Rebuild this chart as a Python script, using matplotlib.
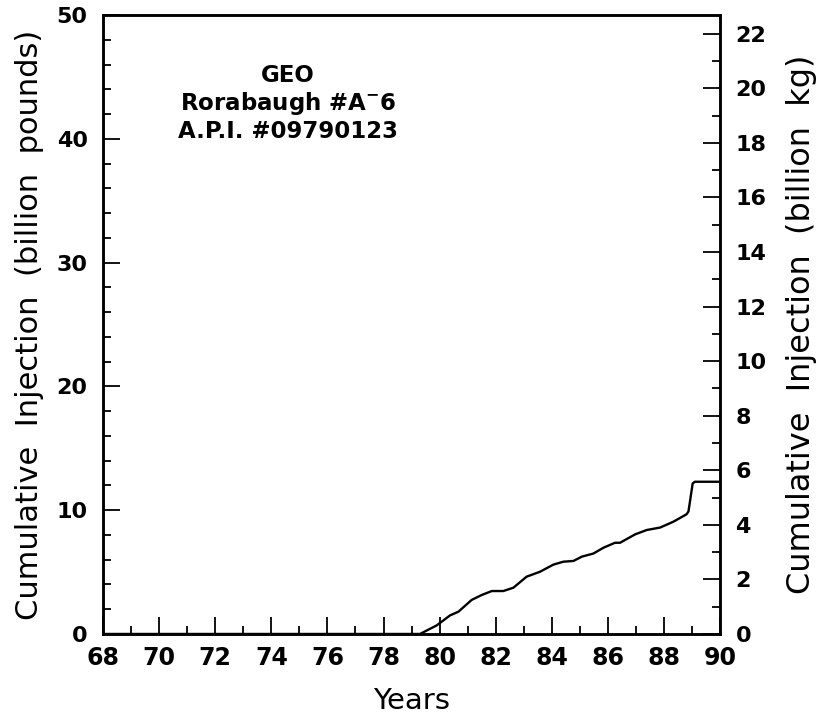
import numpy as np
import matplotlib
matplotlib.use('Agg')
import matplotlib.pyplot as plt
from matplotlib.ticker import MultipleLocator

# ----------------------------------------------------------------------------------------------------------------------
# data
years = [68.0, 79.3, 79.9, 80.37, 80.67, 81.14, 81.5, 81.86, 82.27, 82.63, 83.1, 83.58, 84.05, 84.41, 84.77,
         85.07, 85.48, 85.84, 86.25, 86.43, 86.97, 87.38, 87.86, 88.33, 88.8, 88.87, 89.02, 89.1, 90.0]
injection_lb = [0.0, 0.0, 0.7, 1.5, 1.8, 2.75, 3.15, 3.47, 3.47, 3.74, 4.63, 5.03, 5.6, 5.84, 5.9,
                6.25, 6.5, 6.97, 7.37, 7.37, 8.05, 8.4, 8.6, 9.07, 9.67, 9.9, 12.17, 12.3, 12.3]

label_text = 'GEO\nRorabaugh #A$^{\\mathbf{-}}$6\nA.P.I. #09790123'
lb_to_kg = 0.45359237
# ----------------------------------------------------------------------------------------------------------------------

plt.rcParams['font.family'] = ['DejaVu Sans']
plt.rcParams['mathtext.fontset'] = 'dejavusans'

fig = plt.figure(figsize=(8.24, 7.17), dpi=100)
ax = fig.add_axes([0.125, 0.1158, 0.749, 0.863])

ax.plot(years, injection_lb, color='black', lw=1.7)

ax.set_xlim(68, 90)
ax.set_ylim(0, 50)
ax.xaxis.set_major_locator(MultipleLocator(2))
ax.xaxis.set_minor_locator(MultipleLocator(1))
ax.yaxis.set_major_locator(MultipleLocator(10))
ax.yaxis.set_minor_locator(MultipleLocator(2))
ax.tick_params(which='both', direction='in', width=1.3, labelsize=16, top=False)
ax.tick_params(which='major', length=12)
ax.tick_params(axis='x', which='major', pad=9, labelsize=17)
ax.tick_params(axis='y', which='major', pad=11)
ax.tick_params(which='minor', length=6)
for lbl in ax.get_xticklabels() + ax.get_yticklabels():
    lbl.set_fontweight('bold')
for sp in ax.spines.values():
    sp.set_linewidth(1.8)

ax.set_xlabel('Years', fontsize=21, labelpad=12)
ax.set_ylabel('Cumulative  Injection  (billion  pounds)', fontsize=22, labelpad=9)

# right axis in kg
ax_r = ax.twinx()
ax_r.set_ylim(0, 50 * lb_to_kg)
ax_r.yaxis.set_major_locator(MultipleLocator(2))
ax_r.yaxis.set_minor_locator(MultipleLocator(1))
ax_r.tick_params(which='both', direction='in', width=1.3, labelsize=16)
ax_r.tick_params(which='major', length=12, pad=11)
ax_r.tick_params(which='minor', length=6)
for lbl in ax_r.get_yticklabels():
    lbl.set_fontweight('bold')
ax_r.set_ylabel('Cumulative  Injection  (billion  kg)', fontsize=23, labelpad=14)
for sp in ax_r.spines.values():
    sp.set_linewidth(1.8)

ax.text(0.3, 0.921, label_text, transform=ax.transAxes, ha='center', va='top',
        fontsize=16.5, fontweight='bold', linespacing=1.15)

fig.savefig('out.png', dpi=100)
